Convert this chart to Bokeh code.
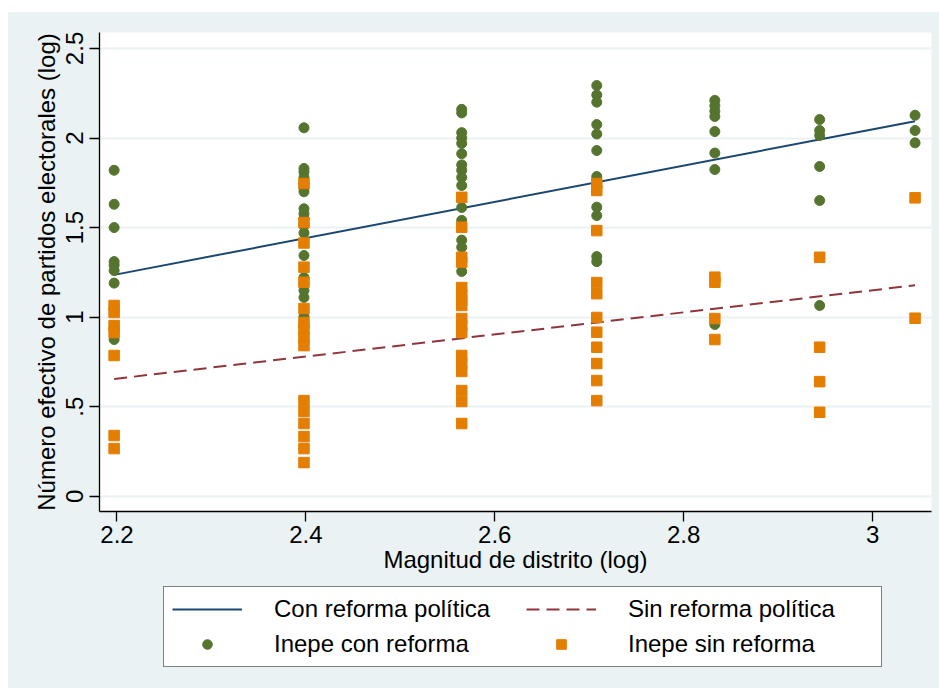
import numpy as np
from bokeh.plotting import figure
from bokeh.layouts import column
from bokeh.models import Range1d, FixedTicker, Legend, LegendItem, ColumnDataSource
from bokeh.embed import file_html
from bokeh.resources import INLINE

# district magnitude (log) for each column of points
magnitud_log = [2.197, 2.398, 2.565, 2.708, 2.833, 2.944, 3.045]

# Inepe con reforma (green circles), one list per district magnitude
con_reforma = [
    [1.82, 1.63, 1.50, 1.31, 1.29, 1.26, 1.19, 0.875],
    [2.057, 1.83, 1.81, 1.78, 1.75, 1.72, 1.70, 1.605, 1.577, 1.55, 1.51,
     1.47, 1.344, 1.221, 1.188, 1.149, 1.11, 1.004],
    [2.16, 2.14, 2.03, 2.00, 1.97, 1.912, 1.85, 1.82, 1.78, 1.735, 1.612,
     1.54, 1.43, 1.39, 1.255],
    [2.293, 2.24, 2.20, 2.075, 2.022, 1.93, 1.785, 1.614, 1.567, 1.338, 1.31],
    [2.21, 2.18, 2.15, 2.12, 2.036, 1.916, 1.824, 0.959],
    [2.103, 2.042, 2.014, 1.841, 1.651, 1.065],
    [2.127, 2.042, 1.973],
]

# Inepe sin reforma (orange squares), one list per district magnitude
sin_reforma = [
    [1.065, 1.026, 0.953, 0.914, 0.786, 0.339, 0.266],
    [1.746, 1.528, 1.414, 1.279, 1.195, 1.048, 0.970, 0.931, 0.886, 0.841,
     0.534, 0.473, 0.406, 0.333, 0.266, 0.188],
    [1.669, 1.502, 1.334, 1.307, 1.165, 1.126, 1.093, 1.065, 0.992, 0.953,
     0.914, 0.786, 0.741, 0.697, 0.590, 0.529, 0.406],
    [1.746, 1.707, 1.483, 1.193, 1.131, 0.998, 0.916, 0.832, 0.741, 0.646, 0.534],
    [1.223, 1.195, 0.992, 0.875],
    [1.334, 0.832, 0.640, 0.469],
    [1.666, 0.994],
]

# fitted lines
fit_x = [2.197, 3.045]
fit_con = [1.236, 2.094]
fit_sin = [0.655, 1.178]

x_ticks = [2.2, 2.4, 2.6, 2.8, 3.0]
x_tick_labels = ["2.2", "2.4", "2.6", "2.8", "3"]
y_ticks = [0, 0.5, 1, 1.5, 2, 2.5]
y_tick_labels = ["0", ".5", "1", "1.5", "2", "2.5"]

legend_labels = ["Con reforma política", "Sin reforma política",
                 "Inepe con reforma", "Inepe sin reforma"]

NAVY = "#1a476f"
MAROON = "#90353b"
GREEN = "#55752f"
ORANGE = "#e37e00"
BG = "#EAF2F3"
FONT = "Liberation Sans"
FS = "24px"
DASH = "13 7"

gx, gy, ox, oy = [], [], [], []
for xv, vals in zip(magnitud_log, con_reforma):
    gx += [xv] * len(vals)
    gy += vals
for xv, vals in zip(magnitud_log, sin_reforma):
    ox += [xv] * len(vals)
    oy += vals

src_con = ColumnDataSource(dict(x=fit_x, y=fit_con))
src_sin = ColumnDataSource(dict(x=fit_x, y=fit_sin))
src_g = ColumnDataSource(dict(x=gx, y=gy))
src_o = ColumnDataSource(dict(x=ox, y=oy))

p = figure(width=931, height=566, output_backend="svg", toolbar_location=None,
           x_range=Range1d(2.1815, 3.0624), y_range=Range1d(-0.085, 2.589),
           min_border_left=91, min_border_top=20, min_border_right=8,
           min_border_bottom=67)
p.background_fill_color = "white"
p.border_fill_color = BG
p.outline_line_color = None

p.line("x", "y", source=src_con, line_color=NAVY, line_width=2)
p.line("x", "y", source=src_sin, line_color=MAROON, line_width=2, line_dash=DASH)
p.scatter("x", "y", source=src_g, marker="circle", size=10, fill_color=GREEN, line_color=GREEN)
p.scatter("x", "y", source=src_o, marker="square", size=10.5, fill_color=ORANGE, line_color=ORANGE)

p.xgrid.visible = False
p.ygrid.grid_line_color = BG
p.ygrid.grid_line_width = 2
p.ygrid.ticker = FixedTicker(ticks=y_ticks)

p.xaxis.ticker = FixedTicker(ticks=x_ticks)
p.xaxis.major_label_overrides = dict(zip(x_ticks, x_tick_labels))
p.yaxis.ticker = FixedTicker(ticks=y_ticks)
p.yaxis.major_label_overrides = dict(zip(y_ticks, y_tick_labels))
p.yaxis.major_label_orientation = "vertical"

p.xaxis.axis_label = "Magnitud de distrito (log)"
p.yaxis.axis_label = "Número efectivo de partidos electorales (log)"

for ax in (p.xaxis, p.yaxis):
    ax.axis_label_text_font = FONT
    ax.axis_label_text_font_size = FS
    ax.axis_label_text_font_style = "normal"
    ax.axis_label_text_color = "black"
    ax.major_label_text_font = FONT
    ax.major_label_text_font_size = FS
    ax.major_label_text_color = "black"
    ax.axis_line_color = "black"
    ax.axis_line_width = 1.3
    ax.major_tick_line_color = "black"
    ax.major_tick_line_width = 1.3
    ax.major_tick_out = 10
    ax.major_tick_in = 0
    ax.minor_tick_line_color = None
p.xaxis.major_label_standoff = 4
p.xaxis.axis_label_standoff = 0
p.yaxis.major_label_standoff = 6
p.yaxis.axis_label_standoff = 4

# legend strip below the chart (its ranges keep the data out of view;
# only the legend keys are drawn)
pl = figure(width=931, height=110, output_backend="svg", toolbar_location=None,
            x_range=Range1d(100, 101), y_range=Range1d(100, 101),
            x_axis_location=None, y_axis_location=None,
            min_border_left=91, min_border_right=8, min_border_top=0,
            min_border_bottom=0)
pl.grid.visible = False
pl.outline_line_color = None
pl.background_fill_color = BG
pl.border_fill_color = BG

l_con = pl.line("x", "y", source=src_con, line_color=NAVY, line_width=2)
l_sin = pl.line("x", "y", source=src_sin, line_color=MAROON, line_width=2, line_dash=DASH)
l_g = pl.scatter("x", "y", source=src_g, marker="circle", size=10, fill_color=GREEN, line_color=GREEN)
l_o = pl.scatter("x", "y", source=src_o, marker="square", size=10.5, fill_color=ORANGE, line_color=ORANGE)

legend = Legend(items=[
    LegendItem(label=legend_labels[0], renderers=[l_con]),
    LegendItem(label=legend_labels[1], renderers=[l_sin]),
    LegendItem(label=legend_labels[2], renderers=[l_g]),
    LegendItem(label=legend_labels[3], renderers=[l_o]),
], orientation="horizontal", ncols=2)
legend.location = (64, 21)
legend.margin = 0
legend.padding = 8
legend.spacing = 7
legend.glyph_width = 70
legend.glyph_height = 24
legend.label_standoff = 32
legend.label_width = 245
legend.label_text_font = FONT
legend.label_text_font_size = FS
legend.label_text_color = "black"
legend.border_line_color = "black"
legend.border_line_width = 1.5
legend.background_fill_color = "white"
legend.background_fill_alpha = 1
pl.add_layout(legend, "center")

layout = column(p, pl, spacing=0, styles={"background-color": BG})
layout.margin = (12, 0, 0, 8)
open("out.html", "w").write(file_html(layout, INLINE))
